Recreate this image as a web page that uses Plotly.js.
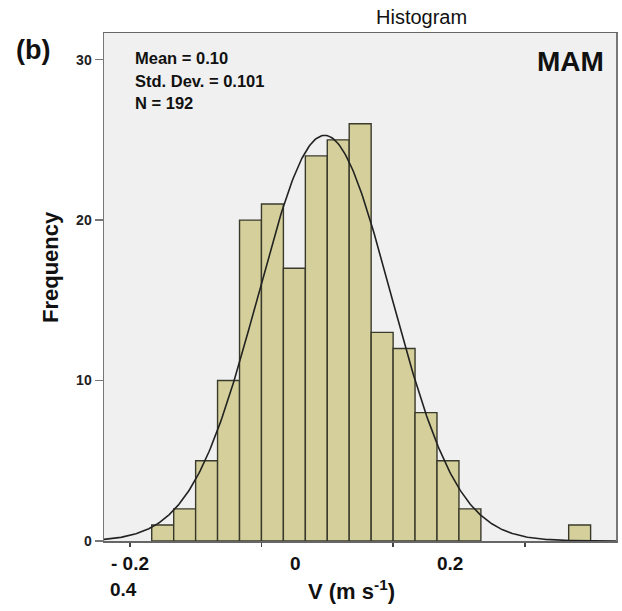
<!DOCTYPE html>
<html>
<head>
<meta charset="utf-8">
<script src="https://cdn.plot.ly/plotly-3.0.1.min.js"></script>
<style>
  html, body { margin: 0; padding: 0; background: #ffffff; }
  #chart { width: 622px; height: 611px; }
</style>
</head>
<body>
<div id="chart"></div>
<script>
// ---- data ----
const binLow = [-0.1667, -0.1333, -0.1, -0.0667, -0.0333, 0, 0.0333, 0.0667, 0.1, 0.1333, 0.1667, 0.2, 0.2333, 0.2667, 0.3, 0.4667];
const counts = [1, 2, 5, 10, 20, 21, 17, 24, 25, 26, 13, 12, 8, 5, 2, 1];
const binWidth = 1 / 30;
const statLines = ["Mean = 0.10", "Std. Dev. = 0.101", "N = 192"];
const fitMean = 0.096;
const fitSD = 0.101;
const nObs = 192;
const yTickVals = [0, 10, 20, 30];
const xTickVals = [-0.2, 0, 0.2, 0.4];
const xLabelText = ["- 0.2", "0", "0.2", "0.4"];

// ---- layout geometry (pixels) ----
const W = 622, H = 611;
const M = { l: 104, r: 6, t: 33, b: 70 };
const pw = W - M.l - M.r, ph = H - M.t - M.b;
const px = x => (x - M.l) / pw;
const py = y => (H - M.b - y) / ph;

// fitted normal curve (scaled to counts)
const xr = [-0.2392, 0.5386];
const curveX = [], curveY = [];
for (let i = 0; i <= 400; i++) {
  const v = xr[0] + (xr[1] - xr[0]) * i / 400;
  curveX.push(v);
  curveY.push(nObs * binWidth / (fitSD * Math.sqrt(2 * Math.PI)) * Math.exp(-0.5 * Math.pow((v - fitMean) / fitSD, 2)));
}

const FONT = "Liberation Sans, Arial, sans-serif";

const bars = {
  type: 'bar',
  x: binLow,
  y: counts,
  width: binWidth,
  offset: 0,
  marker: { color: '#d5d09b', line: { color: '#3a3a2c', width: 1.4 } },
  hoverinfo: 'skip'
};
const curve = {
  type: 'scatter', mode: 'lines',
  x: curveX, y: curveY,
  line: { color: '#222222', width: 1.6 },
  hoverinfo: 'skip'
};

const ann = [];
function txt(text, x, y, size, opts) {
  ann.push(Object.assign({
    text: text, xref: 'paper', yref: 'paper', x: px(x), y: py(y),
    xanchor: 'center', yanchor: 'middle', showarrow: false,
    font: { family: FONT, size: size, color: '#111111', weight: 'bold' }
  }, opts || {}));
}
// title + panel labels
txt("Histogram", 421, 17, 20, { font: { family: FONT, size: 20, color: '#111111', weight: 'normal' } });
txt("(b)", 33, 50, 27);
txt("MAM", 606, 61, 28, { xanchor: 'right' });
// stats box text
const statY = [58, 81, 103];
statLines.forEach((s, i) => txt(s, 133, statY[i], 16.5, { xanchor: 'left' }));
// x tick labels (as positioned in reference)
const xLabPos = [[130, 563], [295.5, 563], [450, 563], [123, 589]];
xLabelText.forEach((s, i) => txt(s, xLabPos[i][0], xLabPos[i][1], 19));
// axis titles
txt("V (m s<sup>-1</sup>)", 351, 590, 22);
txt("Frequency", 50, 267, 22, { textangle: -90 });

const layout = {
  width: W, height: H,
  margin: M,
  paper_bgcolor: '#ffffff',
  plot_bgcolor: '#f0f0f0',
  showlegend: false,
  bargap: 0,
  hovermode: false,
  xaxis: {
    range: xr, tickvals: xTickVals, showticklabels: false,
    ticks: 'outside', ticklen: 4, tickwidth: 1.5, tickcolor: '#444444',
    showgrid: false, zeroline: false,
    showline: true, mirror: true, linecolor: '#666666', linewidth: 1.5
  },
  yaxis: {
    range: [0, 31.66], tickvals: yTickVals,
    ticks: 'outside', ticklen: 8, tickwidth: 1.2, tickcolor: '#777777',
    tickfont: { family: FONT, size: 14, color: '#222222', weight: 'bold' },
    showgrid: false, zeroline: false,
    showline: true, mirror: true, linecolor: '#777777', linewidth: 1.5
  },
  annotations: ann
};

Plotly.newPlot('chart', [bars, curve], layout, { displayModeBar: false, staticPlot: true });
</script>
</body>
</html>
